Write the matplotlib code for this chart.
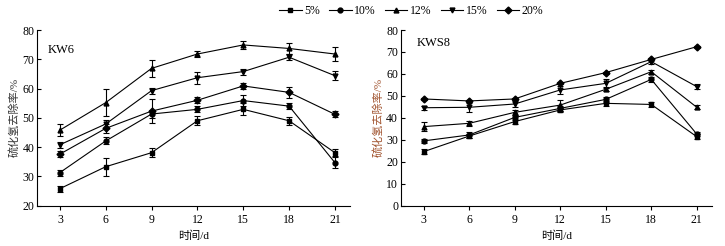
import matplotlib
matplotlib.use('Agg')
import matplotlib.pyplot as plt
from matplotlib.lines import Line2D
import numpy as np

plt.rcParams['font.family'] = ['Liberation Serif', 'Noto Sans CJK SC']
plt.rcParams['font.size'] = 8

days = [3, 6, 9, 12, 15, 18, 21]
labels = ['5%', '10%', '12%', '15%', '20%']
markers = ['s', 'o', '^', 'v', 'D']

# KW6
kw6_5 = [25.8, 33.3, 38.1, 49.0, 52.9, 49.0, 38.1]
kw6_10 = [31.3, 42.1, 51.3, 52.9, 55.9, 54.0, 34.7]
kw6_12 = [45.8, 55.2, 66.9, 71.8, 74.9, 73.7, 71.8]
kw6_15 = [40.8, 47.9, 59.3, 63.7, 65.8, 70.7, 64.4]
kw6_20 = [37.6, 46.4, 52.3, 56.0, 60.9, 58.7, 51.2]
kw6_err_5 = [1.0, 3.0, 1.5, 1.5, 2.0, 1.3, 1.2]
kw6_err_10 = [1.0, 1.2, 1.5, 1.0, 2.0, 1.0, 2.0]
kw6_err_12 = [2.0, 4.5, 3.0, 1.0, 1.5, 2.0, 2.5]
kw6_err_15 = [1.0, 1.5, 1.0, 2.0, 1.0, 1.0, 1.5]
kw6_err_20 = [1.0, 1.5, 4.2, 1.0, 1.0, 2.0, 1.0]

# KWS8
kws8_5 = [24.6, 31.7, 38.3, 43.6, 46.6, 46.1, 31.4]
kws8_10 = [29.5, 32.2, 40.2, 44.3, 48.4, 57.5, 32.6]
kws8_12 = [36.0, 37.5, 42.5, 45.8, 53.0, 61.0, 44.8]
kws8_15 = [44.6, 44.8, 46.3, 52.7, 55.7, 65.6, 54.2]
kws8_20 = [48.6, 47.7, 48.6, 55.7, 60.6, 66.6, 72.4]
kws8_err_5 = [1.0, 1.0, 1.0, 1.0, 1.0, 1.0, 1.2]
kws8_err_10 = [1.0, 1.5, 1.0, 1.0, 1.0, 1.0, 1.0]
kws8_err_12 = [2.2, 1.0, 1.0, 2.5, 1.0, 1.0, 1.0]
kws8_err_15 = [1.0, 2.0, 1.5, 2.0, 2.0, 1.0, 1.0]
kws8_err_20 = [0.5, 0.5, 0.5, 0.5, 0.5, 0.5, 0.5]

fig = plt.figure(figsize=(7.25, 2.46), dpi=100)
ax1 = fig.add_axes([0.051, 0.164, 0.432, 0.714])
ax2 = fig.add_axes([0.553, 0.164, 0.429, 0.714])

panels = [
    (ax1, [kw6_5, kw6_10, kw6_12, kw6_15, kw6_20],
     [kw6_err_5, kw6_err_10, kw6_err_12, kw6_err_15, kw6_err_20], 'KW6', (20, 80), '#333333', (2.2, 72)),
    (ax2, [kws8_5, kws8_10, kws8_12, kws8_15, kws8_20],
     [kws8_err_5, kws8_err_10, kws8_err_12, kws8_err_15, kws8_err_20], 'KWS8', (0, 80), '#a0522d', (2.55, 72.5)),
]

for ax, series, errs, name, ylim, lab_color, txt in panels:
    for vals, err, mk, lb in zip(series, errs, markers, labels):
        ax.errorbar(days, vals, yerr=err, color='black', marker=mk, markersize=3.5,
                    linewidth=0.8, elinewidth=0.8, capsize=2.2, capthick=0.8, label=lb)
    ax.set_xlim(1.5, 22)
    ax.set_ylim(*ylim)
    ax.set_xticks(days)
    ax.set_yticks(np.arange(ylim[0], 81, 10))
    ax.spines['top'].set_visible(False)
    ax.spines['right'].set_visible(False)
    ax.spines['left'].set_linewidth(0.8)
    ax.spines['bottom'].set_linewidth(0.8)
    ax.tick_params(axis='y', direction='in', length=3, width=0.8, pad=2, labelsize=8.5)
    ax.tick_params(axis='x', direction='out', length=3, width=0.8, pad=3, labelsize=8.5)
    ax.set_xlabel('时间/d', fontsize=8, labelpad=3)
    ax.set_ylabel('硫化氢去除率/%', fontsize=8, color=lab_color, labelpad=2)
    ax.text(txt[0], txt[1], name, fontsize=9)

# legend shows plain line + marker
handles = [Line2D([], [], color='black', marker=mk, markersize=3.5, linewidth=0.8) for mk in markers]
fig.legend(handles, labels, loc='center', bbox_to_anchor=(0.567, 0.955), ncol=5, frameon=False,
           handlelength=1.9, handletextpad=0.2, columnspacing=0.8, fontsize=8.5)

fig.savefig('out.png', dpi=100)
